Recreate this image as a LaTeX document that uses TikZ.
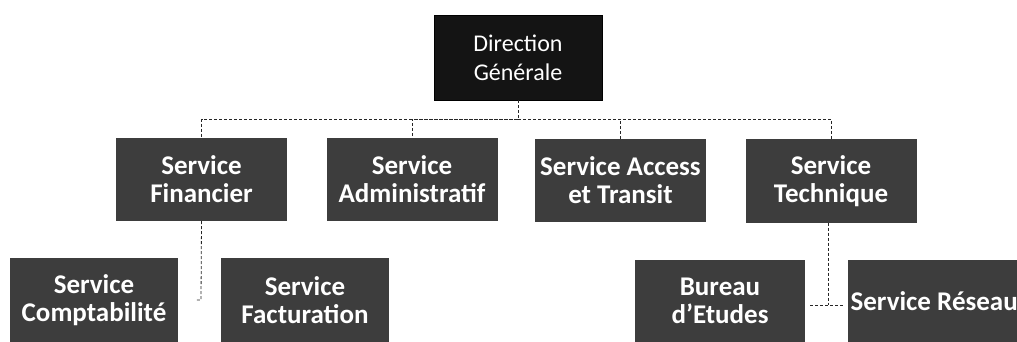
\documentclass[tikz,border=0pt]{standalone}
\usepackage{fontspec}
\setmainfont{Carlito}
\begin{document}
\begin{tikzpicture}[x=1pt,y=-1pt,
  topbox/.style={draw=black,fill=black!92,text=white,inner sep=0pt,
    minimum width=168pt,minimum height=85pt,align=center,
    font=\fontsize{24}{29}\selectfont},
  subbox/.style={fill=black!76,text=white,inner sep=0pt,
    minimum width=171pt,minimum height=83pt,align=center,
    font=\fontsize{27}{28}\selectfont\bfseries},
  conn/.style={draw=black!85,line width=0.8pt,densely dashed}]
\useasboundingbox (0,0) rectangle (1017,342);
\coordinate (busy) at (0,119);
\coordinate (techy) at (0,305);
\node[topbox] (dg) at (518,57.5) {Direction\\Générale};
\node[subbox] (fin) at (201.5,179.5) {Service\\Financier};
\node[subbox] (adm) at (412,179.5) {Service\\Administratif};
\node[subbox] (acc) at (620.5,180.5) {Service Access\\et Transit};
\node[subbox] (tech) at (831,181) {Service\\Technique};
\node[subbox,minimum width=168pt,minimum height=84pt] (cpt) at (94,300) {Service\\Comptabilité};
\node[subbox,minimum width=168pt,minimum height=84pt] (fac) at (305,300) {Service\\Facturation};
\node[subbox,minimum width=170pt,minimum height=82pt] (bur) at (720,301) {Bureau\\d'Etudes};
\node[subbox,minimum width=172pt,minimum height=82pt,anchor=west] (res) at (848,301) {Service Réseau};
\coordinate (finend) at (201,300);
\draw[conn] (dg.south) -- (dg.south |- busy) -| (fin.north);
\draw[conn] (dg.south |- busy) -| (adm.north);
\draw[conn] (dg.south |- busy) -| (acc.north);
\draw[conn] (dg.south |- busy) -| (tech.north);
\draw[conn] (fin.south) -- (finend) -- ++(-6,0);
\draw[conn] ([xshift=-3pt]tech.south) -- ([xshift=-3pt]tech.south |- techy);
\draw[conn] ([xshift=5pt]bur.east |- techy) -- ([xshift=-5pt]res.west |- techy);
\end{tikzpicture}
\end{document}
